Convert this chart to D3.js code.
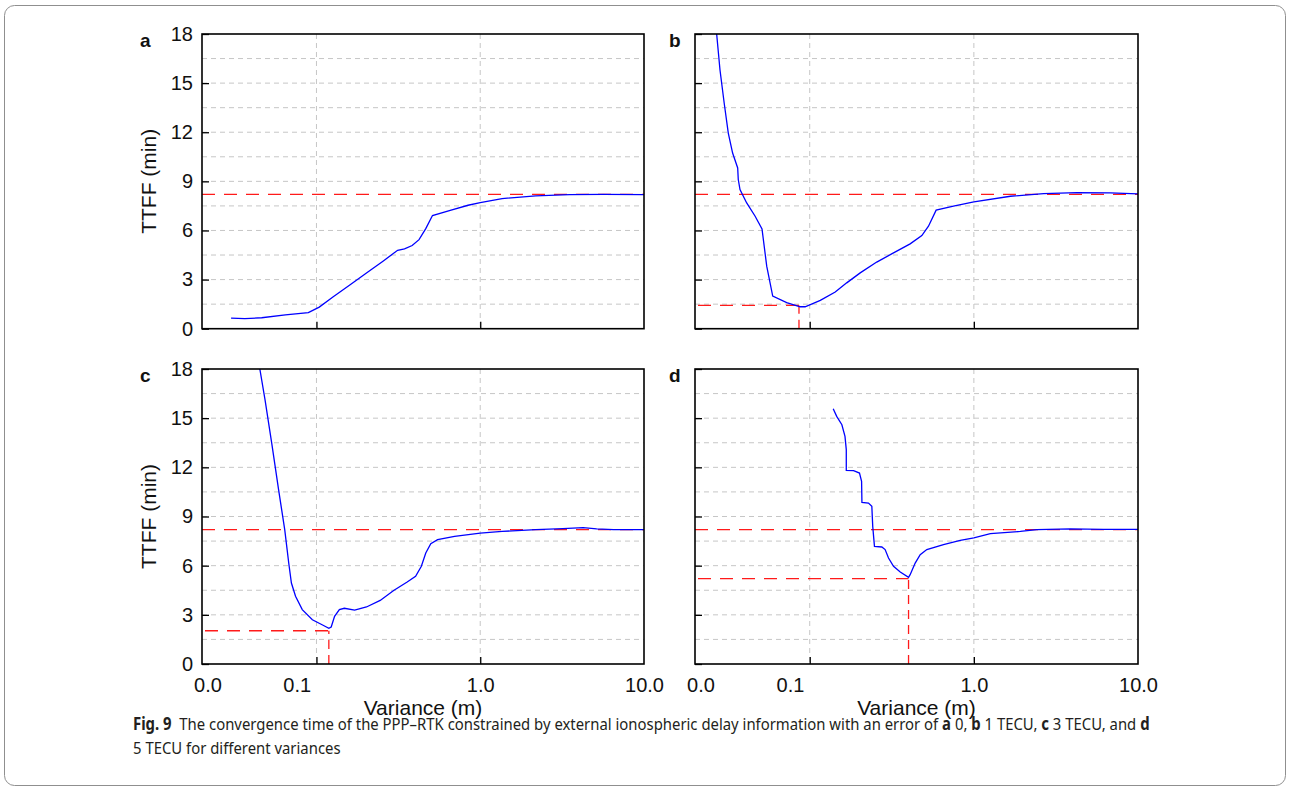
<!DOCTYPE html>
<html lang="en">
<head>
<meta charset="UTF-8">
<title>TTFF vs variance</title>
<script src="https://d3js.org/d3.v7.min.js"></script>
<style>
  body { margin: 0; background: #fff; }
  .chart text { font-family: "Liberation Sans", Arial, sans-serif; }
  .caption text { font-family: "Noto Sans", "Open Sans", sans-serif; }
</style>
</head>
<body>
<script>
// ---- data ----
const yTicks = [0, 3, 6, 9, 12, 15, 18];
const yGrid = [1.5, 3, 4.5, 6, 7.5, 9, 10.5, 12, 13.5, 15, 16.5];
const xGrid = [0.1, 1];
const xTickText = ["0.0", "0.1", "1.0", "10.0"];
const xTickPos = [0.0216, 0.0758, 1, 10];   // where the labels sit in the original
const refLevel = 8.2;                        // red dashed line

// a: 0
const varA = [0.0301, 0.0365, 0.0463, 0.0646, 0.0892, 0.104, 0.126, 0.159, 0.202, 0.256, 0.313, 0.345, 0.384, 0.423, 0.465, 0.511, 0.664, 0.843, 1.0, 1.36, 2.18, 3.51, 5.65, 10];
const ttffA = [0.65, 0.61, 0.67, 0.84, 0.98, 1.32, 1.94, 2.65, 3.40, 4.14, 4.79, 4.87, 5.08, 5.44, 6.11, 6.91, 7.24, 7.54, 7.70, 7.95, 8.11, 8.19, 8.21, 8.19];

// b: 1 TECU
const varB = [0.0265, 0.0271, 0.0284, 0.0301, 0.0319, 0.0339, 0.0364, 0.0367, 0.0376, 0.0413, 0.0465, 0.0512, 0.0547, 0.0595, 0.0724, 0.0874, 0.0937, 0.116, 0.143, 0.168, 0.203, 0.256, 0.324, 0.409, 0.482, 0.529, 0.589, 0.751, 1.0, 1.67, 2.66, 4.25, 6.79, 10];
const ttffB = [19.0, 18.0, 15.8, 13.8, 11.95, 10.73, 9.82, 9.11, 8.50, 7.68, 6.87, 6.10, 3.82, 1.99, 1.59, 1.34, 1.34, 1.73, 2.24, 2.80, 3.41, 4.07, 4.63, 5.18, 5.69, 6.26, 7.24, 7.48, 7.74, 8.09, 8.25, 8.31, 8.29, 8.23];
const minB = [0.086, 1.42];

// c: 3 TECU
const varC = [0.0440, 0.0451, 0.0485, 0.0533, 0.0587, 0.0640, 0.0677, 0.0703, 0.0745, 0.0819, 0.0944, 0.109, 0.119, 0.123, 0.129, 0.138, 0.148, 0.171, 0.202, 0.245, 0.296, 0.358, 0.403, 0.437, 0.465, 0.499, 0.549, 0.697, 1.0, 1.36, 2.18, 3.19, 4.25, 5.14, 6.52, 10];
const ttffC = [19.0, 18.0, 16.13, 13.48, 10.64, 8.20, 6.16, 4.94, 4.13, 3.32, 2.70, 2.38, 2.18, 2.26, 2.91, 3.32, 3.40, 3.29, 3.48, 3.88, 4.49, 5.00, 5.35, 5.96, 6.77, 7.34, 7.59, 7.79, 7.99, 8.09, 8.20, 8.26, 8.32, 8.24, 8.20, 8.20];
const minC = [0.119, 2.03];

// d: 5 TECU
const varD = [0.139, 0.146, 0.157, 0.164, 0.167, 0.167, 0.185, 0.201, 0.207, 0.208, 0.228, 0.239, 0.242, 0.248, 0.275, 0.288, 0.302, 0.324, 0.356, 0.400, 0.409, 0.439, 0.471, 0.517, 0.653, 0.826, 1.0, 1.26, 1.92, 2.42, 3.87, 6.18, 10];
const ttffD = [15.58, 15.11, 14.60, 13.89, 13.08, 11.82, 11.80, 11.65, 11.15, 9.86, 9.82, 9.62, 8.40, 7.18, 7.14, 6.98, 6.47, 5.96, 5.61, 5.29, 5.45, 6.16, 6.67, 6.98, 7.28, 7.55, 7.69, 7.95, 8.09, 8.20, 8.24, 8.22, 8.22];
const minD = [0.400, 5.21];

const width = 1290;
const height = 792;

const svg = d3.select("body").append("svg")
    .attr("width", width)
    .attr("height", height);

// figure frame
svg.append("rect")
    .attr("x", 4.5).attr("y", 5.5)
    .attr("width", 1281).attr("height", 780)
    .attr("rx", 10)
    .attr("fill", "none")
    .attr("stroke", "#8f8f8f");

const panels = [
    { tag: "a", lx: 140, x0: 202, x1: 644, y0: 34, y1: 328.7, xs: varA, ys: ttffA, min: null, left: true, bottom: false },
    { tag: "b", lx: 669, x0: 695, x1: 1138, y0: 34, y1: 328.7, xs: varB, ys: ttffB, min: minB, left: false, bottom: false },
    { tag: "c", lx: 140, x0: 202, x1: 644, y0: 369, y1: 664, xs: varC, ys: ttffC, min: minC, left: true, bottom: true },
    { tag: "d", lx: 669, x0: 695, x1: 1138, y0: 369, y1: 664, xs: varD, ys: ttffD, min: minD, left: false, bottom: true }
];

const chart = svg.append("g").attr("class", "chart");

panels.forEach((p, i) => {
    const x = d3.scaleLog().domain([0.02, 10]).range([p.x0, p.x1]);
    const y = d3.scaleLinear().domain([0, 18]).range([p.y1, p.y0]);
    const g = chart.append("g");

    // grid
    g.selectAll(".hg").data(yGrid).enter().append("line")
        .attr("x1", p.x0).attr("x2", p.x1)
        .attr("y1", d => y(d)).attr("y2", d => y(d))
        .attr("stroke", "#c6c6c6").attr("stroke-width", 1)
        .attr("stroke-dasharray", "5,4");
    g.selectAll(".vg").data(xGrid).enter().append("line")
        .attr("x1", d => x(d)).attr("x2", d => x(d))
        .attr("y1", p.y0).attr("y2", p.y1)
        .attr("stroke", "#c6c6c6").attr("stroke-width", 1)
        .attr("stroke-dasharray", "5,4");

    // red reference lines
    g.append("line")
        .attr("x1", p.x0).attr("x2", p.x1)
        .attr("y1", y(refLevel)).attr("y2", y(refLevel))
        .attr("stroke", "#ff1a1a").attr("stroke-width", 1.3)
        .attr("stroke-dasharray", "13,9");
    if (p.min) {
        g.append("line")
            .attr("x1", p.x0 + 3).attr("x2", x(p.min[0]))
            .attr("y1", y(p.min[1])).attr("y2", y(p.min[1]))
            .attr("stroke", "#ff1a1a").attr("stroke-width", 1.3)
            .attr("stroke-dasharray", "13,9");
        g.append("line")
            .attr("x1", x(p.min[0])).attr("x2", x(p.min[0]))
            .attr("y1", p.y1).attr("y2", y(p.min[1]))
            .attr("stroke", "#ff1a1a").attr("stroke-width", 1.3)
            .attr("stroke-dasharray", "9,6");
    }

    // curve
    const clipId = "clip" + i;
    svg.append("clipPath").attr("id", clipId).append("rect")
        .attr("x", p.x0).attr("y", p.y0)
        .attr("width", p.x1 - p.x0).attr("height", p.y1 - p.y0);
    const line = d3.line()
        .x(d => x(d[0]))
        .y(d => y(d[1]));
    g.append("path")
        .datum(d3.zip(p.xs, p.ys))
        .attr("clip-path", "url(#" + clipId + ")")
        .attr("d", line)
        .attr("fill", "none")
        .attr("stroke", "#0000ff")
        .attr("stroke-width", 1.3);

    // axes (ticks point inward)
    const ay = g.append("g")
        .attr("transform", "translate(" + p.x0 + ",0)")
        .call(d3.axisLeft(y).tickValues(yTicks).tickSize(-7).tickPadding(9)
            .tickFormat(p.left ? d3.format("d") : () => ""));
    ay.select(".domain").remove();
    ay.selectAll("line").attr("stroke", "#000").attr("stroke-width", 1.3);
    ay.selectAll("text").attr("font-size", 20).attr("fill", "#111")
        .attr("font-family", null);

    const ax = g.append("g")
        .attr("transform", "translate(0," + p.y1 + ")")
        .call(d3.axisBottom(x).tickValues(xGrid).tickSize(-7).tickFormat(() => ""));
    ax.select(".domain").remove();
    ax.selectAll("line").attr("stroke", "#000").attr("stroke-width", 1.3);

    if (p.bottom) {
        const axl = g.append("g")
            .attr("transform", "translate(0," + p.y1 + ")")
            .call(d3.axisBottom(x).tickValues(xTickPos).tickSize(0).tickPadding(14)
                .tickFormat((d, j) => xTickText[j]));
        axl.select(".domain").remove();
        axl.selectAll("text").attr("font-size", 20).attr("fill", "#111")
            .attr("font-family", null);

        g.append("text")
            .attr("x", (p.x0 + p.x1) / 2).attr("y", 715)
            .attr("text-anchor", "middle")
            .attr("font-size", 21).attr("fill", "#111")
            .text("Variance (m)");
    }
    if (p.left) {
        g.append("text")
            .attr("transform", "translate(156," + ((p.y0 + p.y1) / 2) + ") rotate(-90)")
            .attr("text-anchor", "middle")
            .attr("font-size", 21).attr("fill", "#111")
            .text("TTFF (min)");
    }

    // frame
    g.append("rect")
        .attr("x", p.x0).attr("y", p.y0)
        .attr("width", p.x1 - p.x0).attr("height", p.y1 - p.y0)
        .attr("fill", "none").attr("stroke", "#000").attr("stroke-width", 1.6);

    // panel letter
    g.append("text")
        .attr("x", p.lx).attr("y", p.y0 + 13)
        .attr("font-size", 19).attr("font-weight", "bold").attr("fill", "#111")
        .text(p.tag);
});

// caption (condensed to the original line width)
const capParts = [
    ["Fig. 9", true], ["\u00a0\u00a0The convergence time of the PPP\u2013RTK constrained by external ionospheric delay information with an error of ", false],
    ["a", true], [" 0, ", false], ["b", true], [" 1 TECU, ", false], ["c", true], [" 3 TECU, and ", false], ["d", true]
];
const caption = svg.append("g").attr("class", "caption");
const cap1 = caption.append("g");
const t1 = cap1.append("text")
    .attr("font-size", 17).attr("fill", "#231f20");
t1.selectAll("tspan").data(capParts).enter().append("tspan")
    .attr("font-weight", d => d[1] ? "bold" : "normal")
    .text(d => d[0]);
const w1 = t1.node().getComputedTextLength();
const sx = 1017 / w1;
cap1.attr("transform", "translate(133,730) scale(" + sx + ",1)");

caption.append("g").attr("transform", "translate(133,754) scale(" + sx + ",1)")
    .append("text")
    .attr("font-size", 17).attr("fill", "#231f20")
    .text("5 TECU for different variances");
</script>
</body>
</html>
